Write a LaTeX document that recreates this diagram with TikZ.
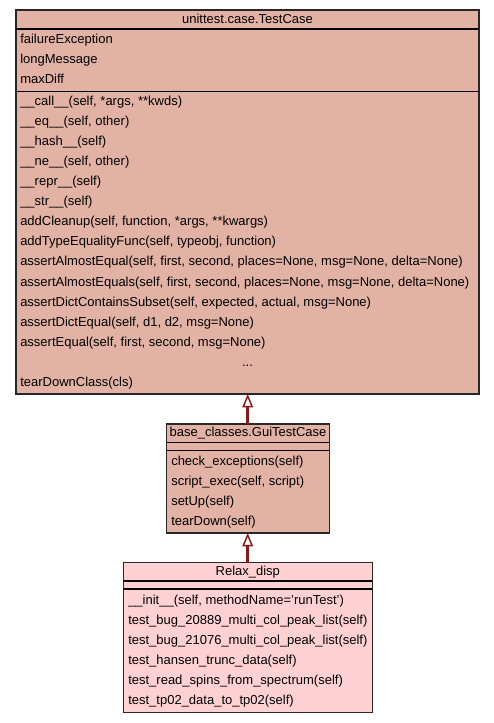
\documentclass[tikz,border=0pt]{standalone}
\usepackage{fontspec}
\setmainfont{Liberation Sans}
\usetikzlibrary{arrows.meta}
\definecolor{topfill}{RGB}{226,178,165}
\definecolor{botfill}{RGB}{255,209,211}
\definecolor{edgered}{RGB}{139,26,26}
\definecolor{boxline}{RGB}{40,40,40}
\begin{document}
\begin{tikzpicture}[x=0.75pt,y=-0.75pt,
  txt/.style={anchor=base west,inner sep=0pt,font=\fontsize{9.75}{12}\selectfont},
  ctxt/.style={anchor=base,inner sep=0pt,font=\fontsize{9.75}{12}\selectfont},
  boxborder/.style={draw=boxline,line width=0.9pt},
  sep/.style={draw=black,line width=0.9pt},
  inherit/.style={draw=edgered,line width=1.9pt,-{Triangle[open,width=8pt,length=10pt,line width=1.1pt]}}]
\useasboundingbox (0,0) rectangle (493,723);
% ---- top box
\filldraw[fill=topfill,boxborder] (16,10) rectangle (479,394);
\draw[sep] (16,29) -- (479,29);
\draw[sep] (16,91.5) -- (479,91.5);
\coordinate (topS) at (247.7,394);
\node[ctxt] (t0) at (247.5,24) {unittest.case.TestCase};
\node[txt] (a1) at (20,44) {failureException};
\node[txt] (a2) at (20,64) {longMessage};
\node[txt] (a3) at (20,84) {maxDiff};
\foreach \t [count=\i from 0] in {
  {\_\_call\_\_(self, *args, **kwds)},
  {\_\_eq\_\_(self, other)},
  {\_\_hash\_\_(self)},
  {\_\_ne\_\_(self, other)},
  {\_\_repr\_\_(self)},
  {\_\_str\_\_(self)},
  {addCleanup(self, function, *args, **kwargs)},
  {addTypeEqualityFunc(self, typeobj, function)},
  {assertAlmostEqual(self, first, second, places=None, msg=None, delta=None)},
  {assertAlmostEquals(self, first, second, places=None, msg=None, delta=None)},
  {assertDictContainsSubset(self, expected, actual, msg=None)},
  {assertDictEqual(self, d1, d2, msg=None)},
  {assertEqual(self, first, second, msg=None)}}
  {\node[txt] (m\i) at (20,106+20*\i) {\t};}
\node[ctxt] (dots) at (247.5,366) {...};
\node[txt] (mlast) at (20,386) {tearDownClass(cls)};
% ---- middle box
\filldraw[fill=topfill,boxborder] (166.7,424) rectangle (329.3,533);
\draw[sep] (166.7,442.3) -- (329.3,442.3);
\draw[sep] (166.7,450.7) -- (329.3,450.7);
\coordinate (midN) at (247.7,424);
\coordinate (midS) at (247.7,533);
\node[ctxt] (g0) at (248,436) {base\_classes.GuiTestCase};
\node[txt] (g1) at (171,465) {check\_exceptions(self)};
\node[txt] (g2) at (171,485) {script\_exec(self, script)};
\node[txt] (g3) at (171,505) {setUp(self)};
\node[txt] (g4) at (171,525) {tearDown(self)};
% ---- bottom box
\filldraw[fill=botfill,boxborder] (123.3,562.7) rectangle (372.3,712.3);
\draw[sep] (123.3,581) -- (372.3,581);
\draw[sep] (123.3,589) -- (372.3,589);
\coordinate (botN) at (247.7,562.7);
\node[ctxt] (r0) at (247.8,575) {Relax\_disp};
\node[txt] (r1) at (128,604) {\_\_init\_\_(self, methodName=\char"27 runTest\char"27)};
\node[txt] (r2) at (128,624) {test\_bug\_20889\_multi\_col\_peak\_list(self)};
\node[txt] (r3) at (128,644) {test\_bug\_21076\_multi\_col\_peak\_list(self)};
\node[txt] (r4) at (128,664) {test\_hansen\_trunc\_data(self)};
\node[txt] (r5) at (128,684) {test\_read\_spins\_from\_spectrum(self)};
\node[txt] (r6) at (128,704) {test\_tp02\_data\_to\_tp02(self)};
% ---- edges
\draw[inherit] (midN) -- (topS);
\draw[inherit] (botN) -- (midS);
\end{tikzpicture}
\end{document}
